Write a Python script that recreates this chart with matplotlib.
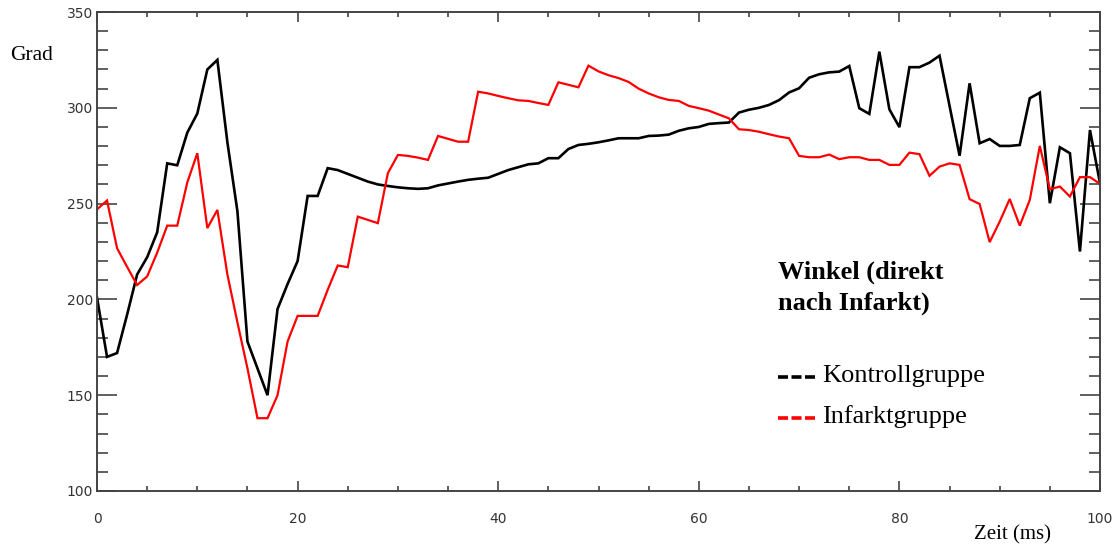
import matplotlib
matplotlib.use("Agg")
import matplotlib.pyplot as plt
from matplotlib.ticker import MultipleLocator

zeit = list(range(0, 101))

kontrollgruppe = [
    201, 170, 172, 192, 213, 222, 235, 271, 270, 287,
    297, 320, 325, 282, 246, 178, 164, 150, 195, 208,
    220, 254, 254, 268.5, 267.5, 265.5, 263.5, 261.5, 260, 259.2,
    258.5, 258, 257.7, 258, 259.5, 260.5, 261.5, 262.4, 263, 263.5,
    265.5, 267.5, 269, 270.5, 271, 273.7, 273.7, 278.5, 280.6, 281.2,
    282, 283, 284.1, 284.1, 284.1, 285.3, 285.5, 286, 288, 289.3,
    290, 291.6, 292, 292.3, 297.5, 299, 300, 301.5, 304, 308,
    310.2, 315.7, 317.5, 318.5, 318.9, 321.8, 299.8, 296.8, 329.3, 299.2,
    289.9, 321.2, 321.2, 323.6, 327.2, 301, 275, 312.8, 281.5, 283.7,
    280.1, 280.1, 280.6, 305, 307.9, 250.2, 279.4, 276.3, 225, 288.4,
    260.6,
]

infarktgruppe = [
    247, 251.6, 226.7, 217, 207.5, 212, 224.4, 238.5, 238.5, 261,
    276.3, 237.2, 246.7, 213, 188, 164, 138, 138, 150, 178,
    191.4, 191.4, 191.4, 205, 217.7, 216.8, 243.2, 241.5, 239.8, 265.9,
    275.4, 274.9, 274, 272.8, 285.3, 283.8, 282.3, 282.3, 308.4, 307.5,
    306.2, 305, 303.9, 303.6, 302.5, 301.5, 313.3, 312, 310.7, 322,
    319, 317, 315.5, 313.5, 310, 307.5, 305.5, 304.1, 303.6, 301,
    299.8, 298.5, 296.5, 294.5, 288.8, 288.4, 287.5, 286.2, 285, 284.1,
    274.9, 274.2, 274.2, 275.6, 273.2, 274.2, 274.2, 272.8, 272.8, 270.2,
    270.2, 276.6, 275.8, 264.5, 269.3, 271, 270.2, 252.3, 249.8, 229.9,
    240.6, 252.4, 238.5, 251.9, 280.1, 257.5, 258.9, 253.7, 263.8, 263.8,
    260.3,
]

x_ticks = [0, 20, 40, 60, 80, 100]
y_ticks = [100, 150, 200, 250, 300, 350]

W, H = 1115, 544
fig = plt.figure(figsize=(W / 100, H / 100), dpi=100)
ax = fig.add_axes([97 / W, 1 - 491 / H, (1100 - 97) / W, (491 - 12) / H])

ax.plot(zeit, kontrollgruppe, color="black", lw=1.9, solid_joinstyle="miter")
ax.plot(zeit, infarktgruppe, color="#ff0000", lw=1.6, solid_joinstyle="miter")

ax.set_xlim(0, 100)
ax.set_ylim(100, 350)
ax.set_xticks(x_ticks)
ax.set_yticks(y_ticks)
ax.xaxis.set_minor_locator(MultipleLocator(5))
ax.yaxis.set_minor_locator(MultipleLocator(10))

spine_col = "#444444"
for s in ax.spines.values():
    s.set_color(spine_col)
    s.set_linewidth(1.4)

ax.tick_params(axis="y", which="major", direction="in", length=14.5, width=1.2,
               color=spine_col, left=True, right=True, pad=3)
ax.tick_params(axis="y", which="minor", direction="in", length=8, width=1.2,
               color=spine_col, left=True, right=True)
ax.tick_params(axis="x", which="major", direction="in", length=7.5, width=1.2,
               color=spine_col, bottom=True, top=True, pad=15)
ax.tick_params(axis="x", which="minor", direction="in", length=3.5, width=1.2,
               color=spine_col, bottom=True, top=True)
for lab in ax.get_xticklabels() + ax.get_yticklabels():
    lab.set_fontfamily("DejaVu Sans")
    lab.set_fontsize(10)
    lab.set_color("#333333")

serif = "Liberation Serif"
fig.text(10 / W, 1 - 55 / H, "Grad", fontfamily=serif, fontsize=15.5,
         ha="left", va="center")
fig.text(1012 / W, 1 - 535 / H, "Zeit (ms)", fontfamily=serif, fontsize=15,
         ha="center", va="center")

fig.text(778 / W, 1 - 272 / H, "Winkel (direkt", fontfamily=serif,
         fontsize=19, fontweight="bold", ha="left", va="center")
fig.text(778 / W, 1 - 303 / H, "nach Infarkt)", fontfamily=serif,
         fontsize=19, fontweight="bold", ha="left", va="center")

legend_items = [("Kontrollgruppe", "black", 377), ("Infarktgruppe", "#ff0000", 418)]
for label, col, ypx in legend_items:
    fig.add_artist(plt.Line2D([778 / W, 815 / W], [1 - ypx / H, 1 - ypx / H],
                              color=col, lw=2.6, linestyle=(0, (2.77, 0.97)),
                              solid_capstyle="butt", dash_capstyle="butt",
                              transform=fig.transFigure))
    fig.text(822 / W, 1 - (ypx - 1) / H, label, fontfamily=serif, fontsize=19,
             ha="left", va="center")

fig.savefig("out.png", dpi=100)
